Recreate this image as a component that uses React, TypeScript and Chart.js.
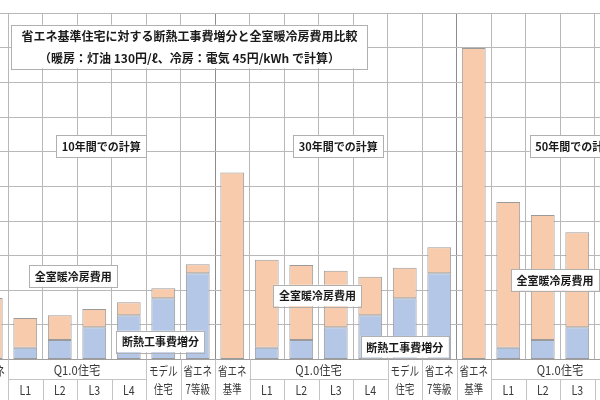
import React, { useEffect, useRef } from 'react';
import { Chart, registerables } from 'chart.js';

Chart.register(...registerables);

// ---- data (万円) ----
const periods = ['10年間', '30年間', '50年間'];
const houseTypes = ['省エネ基準', 'L1', 'L2', 'L3', 'L4', 'モデル住宅', '省エネ7等級'];
const insulationCost = [0, 17, 28, 46.5, 64, 88.4, 124.5];
const heatingCost10 = [89, 43, 36, 26.5, 18.6, 14.6, 13];
const heatingCost30 = [270, 127, 108.5, 81.7, 55.6, 44.2, 37.5];
const heatingCost50 = [450, 210.5, 180.7, 137.2, 94, 73, 65];
const yMax = 500;
const yStep = 50;

// axis table text
const axisTopLabels = ['省エネ', 'Q1.0住宅', 'モデル', '省エネ'];
const axisTopSpans = [1, 4, 1, 1];
const axisBottomLabels = ['基準', 'L1', 'L2', 'L3', 'L4', '住宅', '7等級'];

const seriesInsulation = '断熱工事費増分';
const seriesHeating = '全室暖冷房費用';

const titleLines = [
  '省エネ基準住宅に対する断熱工事費増分と全室暖冷房費用比較',
  '（暖房：灯油 130円/ℓ、冷房：電気 45円/kWh で計算）',
];

// annotation boxes: anchored at (category index, value)
const notes = [
  { lines: titleLines, at: 5.76, value: 452, size: 12, padX: 10 },
  { lines: ['10年間での計算'], at: 3.2, value: 308, size: 11, padX: 5.5 },
  { lines: ['30年間での計算'], at: 10.07, value: 308, size: 11, padX: 5.5 },
  { lines: ['50年間での計算'], at: 16.93, value: 308, size: 11, padX: 5.5 },
  { lines: [seriesHeating], at: 2.39, value: 120.6, size: 11, padX: 5.5 },
  { lines: [seriesHeating], at: 9.47, value: 92.4, size: 11, padX: 5.5 },
  { lines: [seriesHeating], at: 16.355, value: 114.8, size: 11, padX: 5.5 },
  { lines: [seriesInsulation], at: 4.92, value: 26, size: 11, padX: 5.5 },
  { lines: [seriesInsulation], at: 12.0, value: 18.5, size: 11, padX: 5.5 },
];

const FONT = '"Noto Sans CJK JP", "Noto Sans", sans-serif';

const categoryLabels: string[] = [];
periods.forEach((p) => houseTypes.forEach((h) => categoryLabels.push(p + ' ' + h)));
const insulationData = periods.flatMap(() => insulationCost.map((v) => (v === 0 ? null : v)));
const heatingData = [...heatingCost10, ...heatingCost30, ...heatingCost50];

const al = (v: number) => Math.round(v) + 0.5;

const tablePlugin = {
  id: 'axisTable',
  afterDraw(chart: any) {
    const ctx = chart.ctx;
    const xs = chart.scales.x;
    const a = chart.chartArea;
    const n = categoryLabels.length;
    const cw = (xs.right - xs.left) / n;
    const top = a.bottom;
    const mid = top + 19.5;
    const bot = chart.height;
    ctx.save();
    ctx.strokeStyle = '#c4c4c4';
    ctx.lineWidth = 1;
    ctx.fillStyle = '#3a3a3a';
    ctx.font = '12.5px ' + FONT;
    ctx.textAlign = 'center';
    ctx.textBaseline = 'middle';
    const vline = (x: number, y0: number, y1: number) => {
      ctx.beginPath();
      ctx.moveTo(al(x), y0);
      ctx.lineTo(al(x), y1);
      ctx.stroke();
    };
    const text = (t: string, x: number, y: number, sx: number) => {
      ctx.save();
      ctx.translate(x, y);
      ctx.scale(sx, 1);
      ctx.fillText(t, 0, 0);
      ctx.restore();
    };
    for (let g = 0; g < periods.length; g++) {
      let idx = g * houseTypes.length;
      axisTopSpans.forEach((span, s) => {
        const x0 = xs.left + idx * cw;
        const x1 = x0 + span * cw;
        vline(x0, top, bot);
        if (span === 1) {
          text(axisTopLabels[s], (x0 + x1) / 2, top + 12, 0.76);
          text(axisBottomLabels[idx % houseTypes.length], (x0 + x1) / 2, top + 30, 0.76);
        } else {
          text(axisTopLabels[s], (x0 + x1) / 2, top + 11, 0.9);
          ctx.beginPath();
          ctx.moveTo(x0, al(mid));
          ctx.lineTo(x1, al(mid));
          ctx.stroke();
          for (let k = 0; k < span; k++) {
            const cx0 = x0 + k * cw;
            if (k > 0) vline(cx0, mid, bot);
            text(axisBottomLabels[(idx + k) % houseTypes.length], cx0 + cw / 2, top + 30.5, 0.85);
          }
        }
        idx += span;
      });
    }
    vline(xs.right, top, bot);
    ctx.restore();
  },
};

const notesPlugin = {
  id: 'notes',
  afterDatasetsDraw(chart: any) {
    const ctx = chart.ctx;
    const xs = chart.scales.x;
    const ys = chart.scales.y;
    const n = categoryLabels.length;
    const cw = (xs.right - xs.left) / n;
    ctx.save();
    notes.forEach((note) => {
      ctx.font = 'bold ' + note.size + 'px ' + FONT;
      const lineH = 22;
      const w = Math.max(...note.lines.map((l) => ctx.measureText(l).width)) + note.padX * 2;
      const h = note.lines.length * lineH - 0.5;
      const cx = xs.left + (note.at + 0.5) * cw;
      const cy = ys.getPixelForValue(note.value);
      const x0 = cx - w / 2;
      const y0 = cy - h / 2;
      ctx.fillStyle = '#ffffff';
      ctx.fillRect(x0, y0, w, h);
      ctx.strokeStyle = '#b0b0b0';
      ctx.lineWidth = 1;
      ctx.strokeRect(al(x0), al(y0), Math.round(w), Math.round(h));
      ctx.fillStyle = '#1a1a1a';
      ctx.textAlign = 'center';
      ctx.textBaseline = 'middle';
      note.lines.forEach((l, i) => {
        ctx.fillText(l, cx, y0 + lineH / 2 + i * lineH + 0.5);
      });
    });
    ctx.restore();
  },
};

export default function App() {
  const ref = useRef<HTMLCanvasElement | null>(null);
  useEffect(() => {
    if (!ref.current) return;
    Chart.defaults.font.family = FONT;
    const chart = new Chart(ref.current, {
      type: 'bar',
      data: {
        labels: categoryLabels,
        datasets: [
          {
            label: seriesInsulation,
            data: insulationData as any,
            backgroundColor: '#b4c7e7',
            borderColor: '#9a9a9a',
            borderWidth: 1,
            borderSkipped: false,
            categoryPercentage: 1,
            barPercentage: 0.69,
          },
          {
            label: seriesHeating,
            data: heatingData,
            backgroundColor: '#f8cbad',
            borderColor: '#9a9a9a',
            borderWidth: 1,
            borderSkipped: false,
            categoryPercentage: 1,
            barPercentage: 0.69,
          },
        ],
      },
      options: {
        animation: false,
        responsive: true,
        maintainAspectRatio: false,
        layout: { padding: { left: 13.5, right: 22, top: 13.3, bottom: 40.5 } },
        plugins: { legend: { display: false }, tooltip: { enabled: false }, title: { display: false } },
        scales: {
          x: {
            stacked: true,
            offset: true,
            ticks: { display: false },
            grid: {
              offset: true,
              drawTicks: false,
              color: (c: any) => (c.index > 0 && c.index % houseTypes.length === 0 ? '#8c8c8c' : '#b8b8b8'),
            },
            border: { display: true, color: '#a0a0a0' },
          },
          y: {
            stacked: true,
            min: 0,
            max: yMax,
            ticks: { display: false, stepSize: yStep },
            grid: { drawTicks: false, color: '#b8b8b8' },
            border: { display: false },
          },
        },
      },
      plugins: [notesPlugin, tablePlugin],
    });
    return () => chart.destroy();
  }, []);
  return (
    <div style={{ position: 'fixed', left: 0, top: 0, width: 600, height: 400, overflow: 'hidden', background: '#fff' }}>
      <div style={{ position: 'absolute', left: -40, top: 0, width: 760, height: 400 }}>
        <canvas ref={ref} />
      </div>
    </div>
  );
}
